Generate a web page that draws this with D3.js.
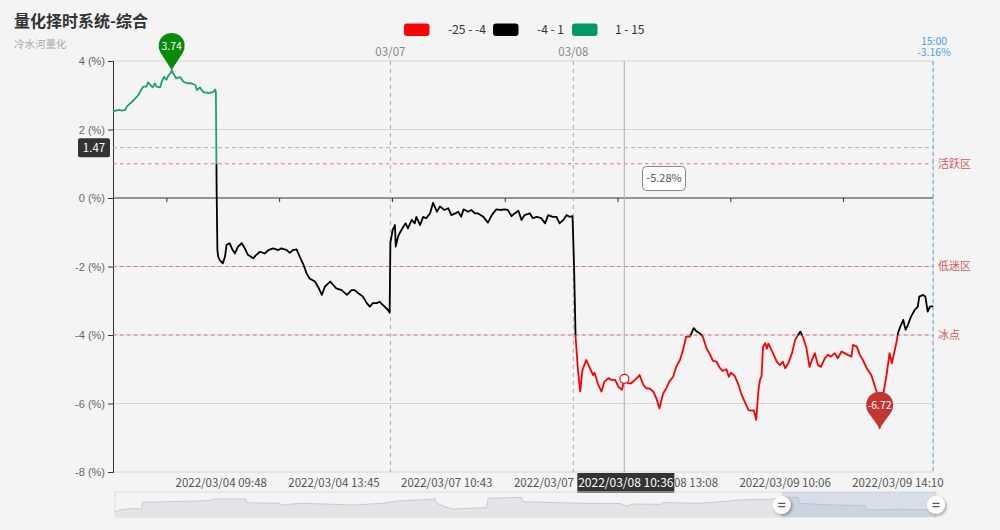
<!DOCTYPE html>
<html><head><meta charset="utf-8">
<script src="https://cdn.jsdelivr.net/npm/d3@7"></script>
<style>
html,body{margin:0;padding:0;background:#f4f4f4;}
svg{display:block;font-family:"Microsoft YaHei","Noto Sans CJK SC","Noto Sans",sans-serif;}
</style></head><body>
<svg id="c" width="1000" height="530"></svg>
<script>
// ---------- data ----------
const minuteIdx = [0,7,12,16,18,25,29,33,38,40,44,46,49,52,55,57,62,64,67,70,73,76,77,79,83,86,89,92,97,103,108,110,114,118,125,132,134,135,136,137,
138,140,144,147,149,153,157,160,164,169,173,177,184,188,193,199,204,210,217,221,228,232,236,241,245,250,254,258,265,269,274,278,285,289,293,300,307,313,317,322,328,333,337,341,346,350,354,361,363,
364,367,370,371,374,376,381,384,387,392,396,398,403,407,411,416,420,425,429,435,440,444,449,453,457,460,466,470,475,479,486,492,497,503,508,514,518,523,527,532,536,540,547,551,556,562,567,571,577,582,586,591,595,599,603,
605,607,610,613,616,621,625,630,632,636,641,645,650,654,659,663,668,671,676,680,685,691,696,700,704,709,713,717,722,726,730,735,739,744,748,752,757,
762,766,770,774,779,783,787,792,796,800,805,808,811,816,820,825,829,834,838,841,844,847,849,851,853,856,858,860,862,866,871,875,879,882,886,891,895,899,902,906,910,914,918,921,925,929,934,938,942,947,951,956,960,964,969,971,976,980,984,989,995,1000,1004,1006,1011,1015,1019,1022,1025,1028,1030,1033,1037,1040,1043,1047,1052,1056,1058,1063,1066,1069,1072,1076];
const pctValues = [2.52,2.57,2.55,2.57,2.67,2.81,2.9,3.0,3.2,3.25,3.25,3.38,3.3,3.23,3.35,3.25,3.23,3.4,3.54,3.45,3.59,3.66,3.74,3.64,3.49,3.52,3.52,3.4,3.35,3.35,3.3,3.15,3.23,3.1,3.06,3.1,3.17,3.1,0.2,-1.52,
-1.71,-1.81,-1.91,-1.71,-1.37,-1.32,-1.52,-1.62,-1.42,-1.32,-1.47,-1.66,-1.76,-1.66,-1.57,-1.62,-1.52,-1.47,-1.52,-1.47,-1.52,-1.6,-1.52,-1.5,-1.71,-1.95,-2.2,-2.35,-2.44,-2.59,-2.83,-2.59,-2.44,-2.54,-2.64,-2.69,-2.83,-2.69,-2.69,-2.78,-2.88,-3.07,-3.17,-3.07,-3.07,-3.03,-3.12,-3.27,-3.35,
-1.3,-0.93,-0.79,-1.42,-1.13,-1.03,-0.84,-0.74,-0.89,-0.64,-0.74,-0.55,-0.79,-0.55,-0.59,-0.45,-0.14,-0.4,-0.25,-0.35,-0.3,-0.5,-0.45,-0.4,-0.55,-0.33,-0.4,-0.35,-0.45,-0.45,-0.55,-0.72,-0.5,-0.33,-0.35,-0.33,-0.35,-0.53,-0.45,-0.37,-0.64,-0.5,-0.45,-0.59,-0.55,-0.59,-0.74,-0.5,-0.55,-0.55,-0.74,-0.64,-0.5,-0.55,-0.53,
-2.0,-4.05,-5.0,-5.65,-5.02,-4.73,-4.93,-5.17,-5.1,-5.41,-5.65,-5.36,-5.26,-5.31,-5.31,-5.51,-5.6,-5.28,-5.41,-5.41,-5.31,-5.17,-5.46,-5.56,-5.56,-5.65,-5.85,-6.14,-5.7,-5.56,-5.36,-5.22,-4.93,-4.73,-4.44,-4.05,-4.05,
-3.8,-3.9,-3.95,-4.05,-4.4,-4.55,-4.75,-4.78,-4.95,-5.05,-5.0,-5.22,-5.1,-5.2,-5.41,-5.75,-5.95,-6.19,-6.21,-6.2,-6.48,-5.6,-5.31,-5.2,-4.34,-4.24,-4.4,-4.25,-4.34,-4.53,-4.78,-4.88,-4.78,-4.97,-4.83,-4.53,-4.15,-4.0,-3.9,-4.1,-4.39,-4.93,-4.68,-4.53,-4.88,-4.93,-4.68,-4.58,-4.63,-4.53,-4.68,-4.48,-4.53,-4.58,-4.63,-4.29,-4.34,-4.58,-4.73,-4.97,-5.17,-5.51,-5.8,-6.72,-5.7,-5.17,-4.53,-4.83,-4.53,-4.22,-3.95,-3.76,-3.56,-3.85,-3.71,-3.47,-3.27,-3.17,-2.88,-2.83,-2.88,-3.32,-3.17,-3.16];

const yTicks = [4,2,0,-2,-4,-6,-8];
const xLabelIdx = [142,290,438,586,734,882,1030];
const xLabels = ["2022/03/04 09:48","2022/03/04 13:45","2022/03/07 10:43","2022/03/07 14:40","2022/03/08 13:08","2022/03/09 10:06","2022/03/09 14:10"];
const dayIdx = [364,604];
const dayLabels = ["03/07","03/08"];
const levelValues = [1,-2,-4];
const levelNames = ["活跃区","低迷区","冰点"];
const pieceLabels = ["-25 - -4","-4 - 1","1 - 15"];
const pieceColors = ["#ff0000","#000000","#009966"];
const cursorIdx = 671, cursorVal = -5.28, cursorLabel = "2022/03/08 10:36";
const hoverY = 1.47;
const maxIdx = 77, maxVal = 3.74, minIdx = 1006, minVal = -6.72;
const lastTime = "15:00", lastVal = -3.16;
// overview (dataZoom) series
const overviewT = [0,34,123,183,190,354,583,663,672,898,905,1131,1143,1268,1494,1631,1837,1954,2180,2193,2205,2308,2548,2559,2788,2799,3208,3462,3508,3551,3748,3757,4010,4238,4250,4490,4613,4682,4696,4922,5142,5153,5381,5607];
const overviewV = [-0.85,0,0.85,0.5,3.85,4.15,4.5,5.0,5.5,5.5,3.65,3.35,2.5,3.35,2.85,2.5,3.35,4.65,5.35,5.85,3.35,0.5,1.15,5.85,6.35,4.15,3.35,3.25,2.0,3.0,2.85,3.75,3.35,4.65,5.0,5.35,6.35,6.35,3.35,2.5,2.25,0,0.35,0];
const windowStartT = 4572, windowEndT = 5630;

// ---------- layout ----------
const svg = d3.select("#c");
const W = 1000, H = 530;
const L = 113, R = 933, T = 61, B = 472;
const x = d3.scaleLinear().domain([0,1076]).range([L,R]);
const y = d3.scaleLinear().domain([-8,4]).range([B,T]);
const data = minuteIdx.map((m,i)=>({m, v:pctValues[i]}));
const defs = svg.append("defs");

svg.append("rect").attr("width",W).attr("height",H).attr("fill","#f4f4f4");

// title
svg.append("text").attr("x",14).attr("y",27).attr("font-size",16).attr("font-weight","bold").attr("fill","#333").text("量化择时系统-综合");
svg.append("text").attr("x",14).attr("y",48).attr("font-size",10.5).attr("fill","#aaa").text("冷水河量化");

// legend
const legX = [404,493,572], legTX = [448,537,615];
pieceLabels.forEach((t,i)=>{
  svg.append("rect").attr("x",legX[i]).attr("y",23.5).attr("width",25.5).attr("height",12.5).attr("rx",3).attr("fill",pieceColors[i]);
  svg.append("text").attr("x",legTX[i]).attr("y",29.5).attr("dy","0.35em").attr("font-size",12).attr("fill","#333").text(t);
});

// grid lines
const g = svg.append("g");
yTicks.forEach(v=>{
  if (v===0) return;
  g.append("line").attr("x1",L).attr("x2",R).attr("y1",y(v)).attr("y2",y(v)).attr("stroke","#d6d6d6").attr("stroke-width",1);
});
g.append("line").attr("x1",R+0.5).attr("x2",R+0.5).attr("y1",T).attr("y2",B).attr("stroke","#ddd");

// y axis
const yAxis = d3.axisLeft(y).tickValues(yTicks).tickSize(5).tickPadding(3).tickFormat(d=>d+" (%)");
const ya = svg.append("g").attr("transform",`translate(${L},0)`).call(yAxis);
ya.select(".domain").attr("stroke","#333");
ya.selectAll(".tick line").attr("stroke","#333");
ya.selectAll("text").attr("fill","#666").attr("font-size",11).attr("font-family","inherit");

// x axis at zero
const tickIdx = xLabelIdx.map(d=>d-72);
const xAxis = d3.axisBottom(x).tickValues(tickIdx).tickSize(4).tickFormat("");
const xa = svg.append("g").attr("transform",`translate(0,${y(0)})`).call(xAxis);
xa.select(".domain").attr("stroke","#333").attr("d",`M${L},0H${R}`);
xa.selectAll(".tick line").attr("stroke","#333");

// bottom labels (the part under the pointer label box is clipped away, as in the reference)
const boxX0 = x(cursorIdx)-47, boxX1 = x(cursorIdx)+50, boxY0 = 473, boxY1 = 493;
defs.append("clipPath").attr("id","lblclip").append("path").attr("clip-rule","evenodd")
  .attr("d",`M0,0H${W}V${H}H0Z M${boxX0},${boxY0}H${boxX1}V${boxY1}H${boxX0}Z`);
svg.append("g").attr("clip-path","url(#lblclip)").selectAll("text").data(xLabelIdx).join("text")
  .attr("x",d=>x(d)).attr("y",483).attr("dy","0.35em").attr("text-anchor","middle")
  .attr("font-size",11.5).attr("fill","#555").text((d,i)=>xLabels[i]);

// day dashed lines
dayIdx.forEach((d,i)=>{
  svg.append("line").attr("x1",x(d)).attr("x2",x(d)).attr("y1",T).attr("y2",B).attr("stroke","#aaa").attr("stroke-dasharray","4,4");
  svg.append("text").attr("x",x(d)).attr("y",52).attr("dy","0.35em").attr("text-anchor","middle").attr("font-size",11.5).attr("fill","#888").text(dayLabels[i]);
});

// level lines
levelValues.forEach((v,i)=>{
  svg.append("line").attr("x1",L).attr("x2",R).attr("y1",y(v)).attr("y2",y(v)).attr("stroke","#d96b6b").attr("stroke-width",1.2).attr("stroke-dasharray","3.5,3.5").attr("opacity",0.9);
  svg.append("text").attr("x",R+5).attr("y",y(v)).attr("dy","0.35em").attr("font-size",11).attr("fill","#d25a5a").text(levelNames[i]);
});

// hover horizontal
svg.append("line").attr("x1",L).attr("x2",R).attr("y1",y(hoverY)).attr("y2",y(hoverY)).attr("stroke","#b0b0b0").attr("stroke-dasharray","4,3");

// cursor vertical
svg.append("line").attr("x1",x(cursorIdx)).attr("x2",x(cursorIdx)).attr("y1",T).attr("y2",B).attr("stroke","#bbb").attr("stroke-width",1.2);

// last point dashed line
svg.append("line").attr("x1",x(1076)).attr("x2",x(1076)).attr("y1",T).attr("y2",B).attr("stroke","#5aa7f0").attr("stroke-dasharray","4,3");
svg.append("text").attr("x",x(1076)+1).attr("y",41).attr("dy","0.35em").attr("text-anchor","middle").attr("font-size",10.5).attr("fill","#4a9ff0").text(lastTime);
svg.append("text").attr("x",x(1076)+1).attr("y",52.5).attr("dy","0.35em").attr("text-anchor","middle").attr("font-size",10.5).attr("fill","#4a9ff0").text(lastVal.toFixed(2)+"%");

// gradient for visual map
const grad = defs.append("linearGradient").attr("id","vm").attr("gradientUnits","userSpaceOnUse").attr("x1",0).attr("x2",0).attr("y1",0).attr("y2",H);
const f1 = y(1)/H, f2 = y(-4)/H;
[[0,"#1aa273"],[f1,"#1aa273"],[f1,"#000"],[f2,"#000"],[f2,"#ff0000"],[1,"#ff0000"]].forEach(s=>grad.append("stop").attr("offset",s[0]).attr("stop-color",s[1]));

svg.append("path").datum(data).attr("fill","none").attr("stroke","url(#vm)").attr("stroke-width",1.8).attr("stroke-linejoin","round")
  .attr("d",d3.line().x(d=>x(d.m)).y(d=>y(d.v)));

// cursor point
svg.append("circle").attr("cx",x(cursorIdx)).attr("cy",y(cursorVal)).attr("r",4.5).attr("fill","#fff").attr("stroke","#ff0000").attr("stroke-width",1.2);

// pins
function pin(cx, tipY, r, h, color, label){
  const cy = tipY - h, a = Math.acos(r/h);
  const sx = r*Math.sin(a), sy = r*Math.cos(a);
  svg.append("path").attr("d",`M${cx},${tipY}L${cx-sx},${cy+sy}A${r},${r} 0 1 1 ${cx+sx},${cy+sy}Z`).attr("fill",color);
  svg.append("text").attr("x",cx).attr("y",cy).attr("dy","0.35em").attr("text-anchor","middle").attr("font-size",10.5).attr("fill","#fff").text(label);
}
pin(x(maxIdx), y(maxVal), 13, 24, "#078a07", maxVal.toFixed(2));
pin(x(minIdx), y(minVal), 13.5, 23, "#c23531", minVal.toFixed(2));

// y pointer label
svg.append("rect").attr("x",78).attr("y",y(hoverY)-9.5).attr("width",32).attr("height",19).attr("rx",2).attr("fill","#333");
svg.append("text").attr("x",94).attr("y",y(hoverY)).attr("dy","0.35em").attr("text-anchor","middle").attr("font-size",11.5).attr("fill","#fff").text(hoverY.toFixed(2));

// tooltip
svg.append("rect").attr("x",642.5).attr("y",166.5).attr("width",43).attr("height",24).attr("rx",4).attr("fill","#fff").attr("stroke","#888").attr("stroke-width",1);
svg.append("text").attr("x",664).attr("y",178.5).attr("dy","0.35em").attr("text-anchor","middle").attr("font-size",11).attr("fill","#555").text(cursorVal.toFixed(2)+"%");

// x pointer label
svg.append("rect").attr("x",boxX0).attr("y",boxY0).attr("width",boxX1-boxX0).attr("height",boxY1-boxY0).attr("fill","#333");
svg.append("text").attr("x",(boxX0+boxX1)/2).attr("y",483).attr("dy","0.35em").attr("text-anchor","middle").attr("font-size",12).attr("fill","#fff").text(cursorLabel);

// data zoom slider
const sx0 = 115, sx1 = 936, sy0 = 492, sy1 = 517;
const ox = d3.scaleLinear().domain([0,5630]).range([sx0,sx1]);
const oy = d3.scaleLinear().domain([-3.5,9]).range([sy1,sy0]);
svg.append("rect").attr("x",sx0).attr("y",sy0).attr("width",sx1-sx0).attr("height",sy1-sy0).attr("fill","none").attr("stroke","#dcdcdc");
const od = overviewT.map((t,i)=>({t, v:overviewV[i]}));
svg.append("path").datum(od).attr("fill","#e2e4e8")
  .attr("d",d3.area().x(d=>ox(d.t)).y0(sy1).y1(d=>oy(d.v)));
svg.append("path").datum(od).attr("fill","none").attr("stroke","#c8ccd2").attr("stroke-width",1)
  .attr("d",d3.line().x(d=>ox(d.t)).y(d=>oy(d.v)));
svg.append("rect").attr("x",ox(windowStartT)).attr("y",sy0).attr("width",ox(windowEndT)-ox(windowStartT)).attr("height",sy1-sy0).attr("fill","rgba(150,172,205,0.3)");
const sh = defs.append("filter").attr("id","sh").attr("x","-50%").attr("y","-50%").attr("width","200%").attr("height","200%");
sh.append("feDropShadow").attr("dx",1.5).attr("dy",1.5).attr("stdDeviation",1.5).attr("flood-color","#000").attr("flood-opacity",0.35);
[windowStartT, windowEndT].forEach(t=>{
  const cx = ox(t), cy = 505;
  svg.append("circle").attr("cx",cx).attr("cy",cy).attr("r",9).attr("fill","#fff").attr("filter","url(#sh)");
  [-1.6,1.6].forEach(o=>svg.append("line").attr("x1",cx-3.5).attr("x2",cx+3.5).attr("y1",cy+o).attr("y2",cy+o).attr("stroke","#555").attr("stroke-width",1.3));
});
</script>
</body></html>
